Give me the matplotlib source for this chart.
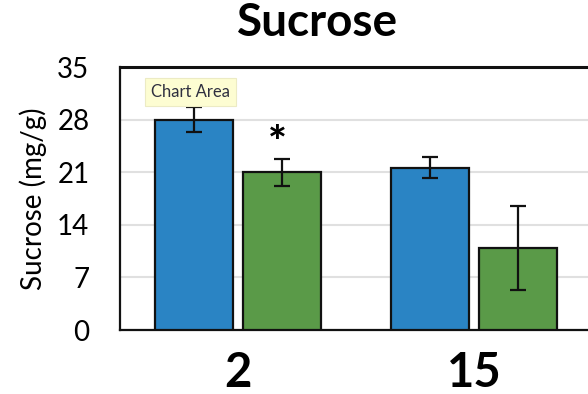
import matplotlib.pyplot as plt
import numpy as np

plt.rcParams["font.family"] = ["Lato", "DejaVu Sans"]

# sucrose content per group, two treatments
groups = ["2", "15"]
blue_vals = [28.0, 21.6]
blue_err = [1.7, 1.4]
green_vals = [21.0, 10.9]
green_err = [1.8, 5.6]
yticks = [0, 7, 14, 21, 28, 35]

fig = plt.figure(figsize=(5.88, 3.94), dpi=100)
ax = fig.add_axes([0.204, 0.1624, 0.803, 0.6675])

x = np.arange(len(groups))
w = 0.33
off = 0.185
ekw = dict(elinewidth=1.6, capsize=6, capthick=1.6, ecolor="#111111")
ax.bar(x - off, blue_vals, w, yerr=blue_err, color="#2a84c4",
       edgecolor="#111111", linewidth=1.6, error_kw=ekw, zorder=3)
ax.bar(x + off, green_vals, w, yerr=green_err, color="#5a9a48",
       edgecolor="#111111", linewidth=1.6, error_kw=ekw, zorder=3)

# significance marker over the first green bar
ax.text(x[0] + off - 0.02, green_vals[0] + green_err[0] + 0.2, "*",
        ha="center", va="baseline", fontsize=32, fontweight="black")

ax.set_xlim(-0.5, 1.5)
ax.set_ylim(0, 35)
ax.set_yticks(yticks)
ax.set_yticklabels([str(t) for t in yticks], fontsize=20)
ax.set_xticks(x)
ax.set_xticklabels(groups, fontsize=34, fontweight="bold")
ax.tick_params(axis="x", length=0, pad=15)
ax.tick_params(axis="y", length=0, pad=22)
ax.grid(axis="y", color="#e0e0e0", linewidth=1.5, zorder=0)
for s in ax.spines.values():
    s.set_color("#111111")
    s.set_linewidth(1.6)
ax.spines["top"].set_linewidth(2.2)

ax.set_ylabel("Sucrose (mg/g)", fontsize=20, labelpad=7)
fig.text(0.54, 0.942, "Sucrose", ha="center", va="center", fontsize=33,
         fontweight="bold")

ax.text(0.066, 0.905, "Chart Area", transform=ax.transAxes, fontsize=12,
        color="#2f3040", va="center", ha="left",
        bbox=dict(boxstyle="square,pad=0.35", facecolor="#fdfdd2",
                  edgecolor="#ecebc4", linewidth=0.8), zorder=5)

fig.savefig("out.png", dpi=100)
